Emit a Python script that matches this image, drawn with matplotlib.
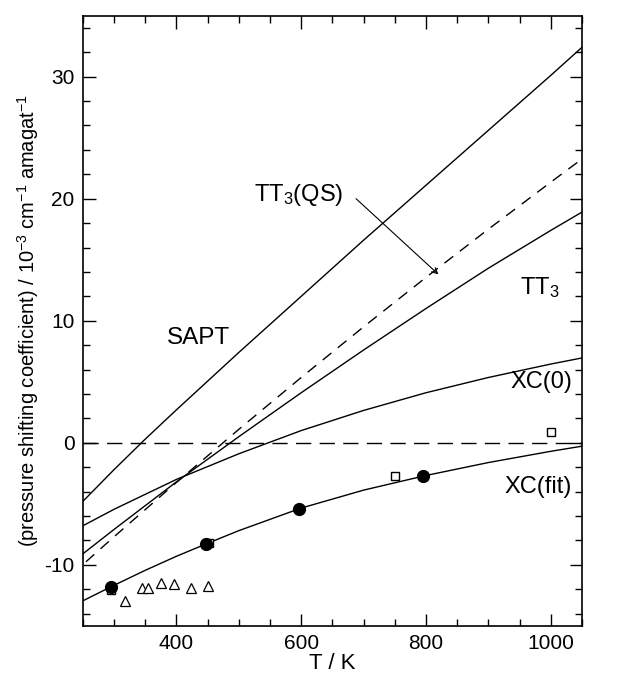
import numpy as np
import matplotlib
matplotlib.use("Agg")
import matplotlib.pyplot as plt
from matplotlib.ticker import MultipleLocator

plt.rcParams['font.family'] = ['Liberation Sans', 'DejaVu Sans']
plt.rcParams['mathtext.fontset'] = 'custom'
plt.rcParams['mathtext.rm'] = 'Liberation Sans'
plt.rcParams['mathtext.it'] = 'Liberation Sans'
plt.rcParams['axes.unicode_minus'] = False

# curves (T in K, coefficient in 1e-3 cm-1 amagat-1)
T_sapt = [250, 300, 350, 400, 500, 600, 700, 800, 900, 1000, 1050]
y_sapt = [-4.8, -2.2, 0.3, 2.7, 7.4, 12.0, 16.6, 21.1, 25.6, 30.1, 32.4]

T_tt3 = [250, 300, 400, 500, 600, 700, 800, 900, 1000, 1050]
y_tt3 = [-9.1, -7.1, -3.2, 0.5, 4.1, 7.6, 11.0, 14.3, 17.4, 18.9]

T_qs = [255, 300, 400, 500, 600, 700, 800, 900, 1000, 1050]
y_qs = [-9.75, -7.7, -3.25, 1.1, 5.35, 9.5, 13.55, 17.5, 21.35, 23.25]

T_xc0 = [250, 300, 400, 500, 600, 700, 800, 900, 1000, 1050]
y_xc0 = [-6.8, -5.45, -3.0, -0.9, 1.0, 2.65, 4.1, 5.35, 6.45, 6.95]

T_xcfit = [250, 295, 350, 400, 447, 500, 600, 700, 800, 900, 1000, 1050]
y_xcfit = [-12.95, -11.8, -10.45, -9.3, -8.3, -7.2, -5.35, -3.88, -2.68, -1.62, -0.7, -0.28]

# measured points
T_circ = [295, 447, 596, 796]
y_circ = [-11.8, -8.3, -5.4, -2.76]

T_sq = [295, 452, 750, 1000]
y_sq = [-12.05, -8.2, -2.76, 0.85]

T_tri = [318, 345, 355, 376, 396, 423, 451]
y_tri = [-13.0, -11.9, -11.9, -11.5, -11.6, -11.9, -11.75]

fig = plt.figure(figsize=(6.23, 6.81), dpi=100)
ax = fig.add_axes([0.133, 0.081, 0.801, 0.896])

ax.axhline(0, color='black', lw=1.0, dashes=(11, 6))
ax.plot(T_sapt, y_sapt, color='black', lw=1.0)
ax.plot(T_tt3, y_tt3, color='black', lw=1.0)
ax.plot(T_qs, y_qs, color='black', lw=1.0, dashes=(8, 6))
ax.plot(T_xc0, y_xc0, color='black', lw=1.0)
ax.plot(T_xcfit, y_xcfit, color='black', lw=1.0)

ax.plot(T_sq, y_sq, 's', mfc='white', mec='black', mew=1.0, ms=6)
ax.plot(T_circ, y_circ, 'o', color='black', ms=8.5)
ax.plot(T_tri, y_tri, '^', mfc='white', mec='black', mew=0.9, ms=7.5)

fs = 17
ax.text(436, 8.6, 'SAPT', fontsize=17.5, ha='center', va='center')
ax.text(596, 20.3, 'TT$_3$(QS)', fontsize=fs, ha='center', va='center')
ax.text(983, 12.7, 'TT$_3$', fontsize=fs, ha='center', va='center')
ax.text(985, 5.0, 'XC(0)', fontsize=fs, ha='center', va='center')
ax.text(980, -3.6, 'XC(fit)', fontsize=fs, ha='center', va='center')
ax.annotate('', xy=(820, 13.8), xytext=(688, 20.0),
            arrowprops=dict(arrowstyle='->', color='black', lw=0.8,
                            shrinkA=0, shrinkB=0))

ax.set_xlim(250, 1050)
ax.set_ylim(-15, 35)
ax.xaxis.set_major_locator(MultipleLocator(200))
ax.xaxis.set_minor_locator(MultipleLocator(50))
ax.yaxis.set_major_locator(MultipleLocator(10))
ax.yaxis.set_minor_locator(MultipleLocator(2))
ax.tick_params(which='both', direction='in', top=True, right=True,
               labelsize=15, width=1.0)
ax.tick_params(which='major', length=9, pad=6)
ax.tick_params(which='minor', length=5)
for s in ax.spines.values():
    s.set_linewidth(1.2)

ax.set_xlabel('T / K', fontsize=16, labelpad=0)
ax.set_ylabel('(pressure shifting coefficient) / 10$^{-3}$ cm$^{-1}$ amagat$^{-1}$',
              fontsize=14.5, labelpad=2)

fig.savefig('out.png', dpi=100)
